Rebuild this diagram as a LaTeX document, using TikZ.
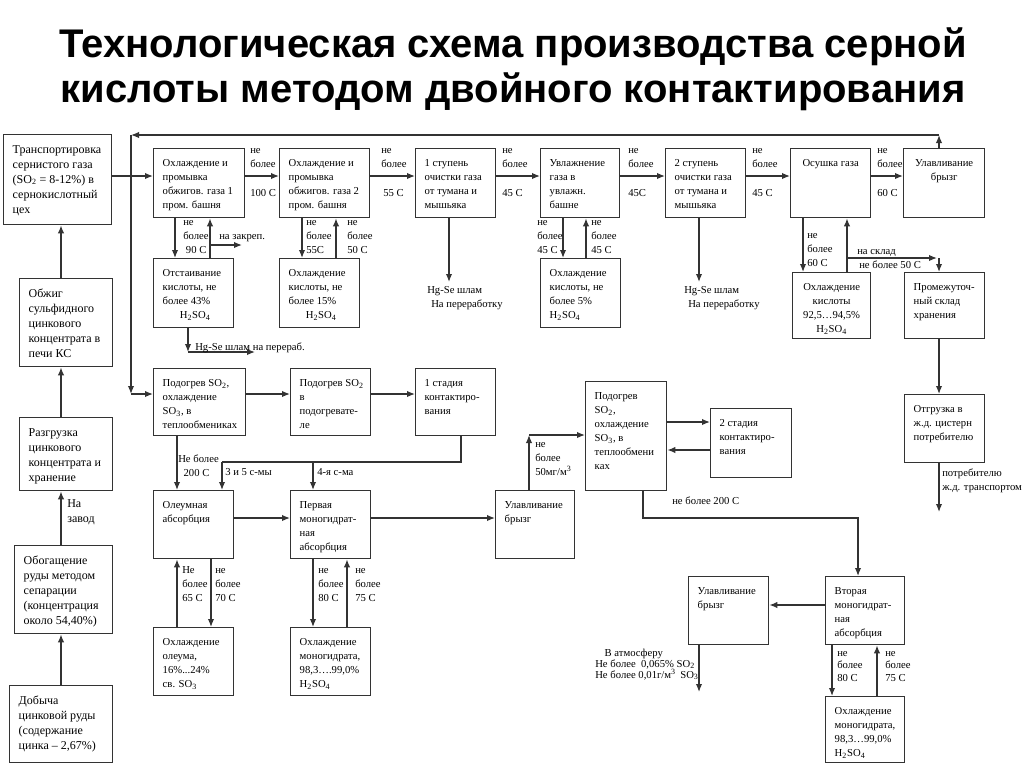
\documentclass[tikz,border=0pt]{standalone}
\usepackage{fontspec}
\setmainfont{Liberation Serif}
\newfontfamily\titlefont{Liberation Sans}
\usetikzlibrary{arrows.meta}
\newcommand{\stage}[7][]{%
  \node[stage,#1] (#2) at (#3,#4)
    {\parbox[t][\dimexpr #6pt*3/4-12pt\relax][t]{\dimexpr #5pt*3/4-8pt\relax}{\raggedright\leftskip=2.8pt\strut #7}};}

\begin{document}
\begin{tikzpicture}[x=0.75pt,y=-0.75pt]
  \tikzset{
    stage/.style={draw=black!80, line width=1pt, anchor=north west, inner xsep=4pt, inner ysep=6pt,
      font=\fontsize{8}{10.5}\selectfont},
    big/.style={font=\fontsize{9}{11.25}\selectfont},
    flow/.style={draw=black!80, line width=1pt, -{Latex[length=6pt,width=4.8pt]}},
    line/.style={draw=black!80, line width=1pt},
    note/.style={inner sep=0pt, align=left, font=\fontsize{8}{10.5}\selectfont},
    heading/.style={inner sep=0pt, anchor=base, font=\titlefont\bfseries\fontsize{30}{35}\selectfont}
  }
  \useasboundingbox (0,0) rectangle (1024,768);
  \fill[white] (0,0) rectangle (1024,768);

  \node[heading] (h1) at (513,57) {Технологическая схема производства серной};
  \node[heading] (h2) at (513,102) {кислоты методом двойного контактирования};

  \coordinate (x61) at (61,0);   \coordinate (x131) at (131,0); \coordinate (x175) at (175,0);
  \coordinate (x177) at (177,0); \coordinate (x188) at (188,0); \coordinate (x210) at (210,0);
  \coordinate (x211) at (211,0); \coordinate (x222) at (222,0); \coordinate (x242) at (242,0);
  \coordinate (x255) at (255,0); \coordinate (x302) at (302,0); \coordinate (x313) at (313,0);
  \coordinate (x336) at (336,0); \coordinate (x347) at (347,0); \coordinate (x449) at (449,0);
  \coordinate (x461) at (461,0); \coordinate (x529) at (529,0); \coordinate (x563) at (563,0);
  \coordinate (x586) at (586,0); \coordinate (x643) at (643,0); \coordinate (x699) at (699,0);
  \coordinate (x803) at (803,0); \coordinate (x832) at (832,0); \coordinate (x847) at (847,0);
  \coordinate (x858) at (858,0); \coordinate (x877) at (877,0); \coordinate (x937) at (937,0);
  \coordinate (x939) at (939,0);
  \coordinate (y135) at (0,135); \coordinate (y176) at (0,176); \coordinate (y245) at (0,245);
  \coordinate (y258) at (0,258); \coordinate (y282) at (0,282); \coordinate (y352) at (0,352);
  \coordinate (y394) at (0,394); \coordinate (y422) at (0,422); \coordinate (y435) at (0,435);
  \coordinate (y450) at (0,450); \coordinate (y462) at (0,462); \coordinate (y512) at (0,512);
  \coordinate (y518) at (0,518); \coordinate (y605) at (0,605); \coordinate (y692) at (0,692);

  \stage[big]{tr}{3}{134}{108}{90}{Транспортировка\\сернистого газа\\(SO\textsubscript{2} = 8-12\%) в\\сернокислотный\\цех}
  \stage[big]{ob}{19}{278}{93}{88}{Обжиг\\сульфидного\\цинкового\\концентрата в\\печи КС}
  \stage[big]{rz}{19}{417}{93}{73}{Разгрузка\\цинкового\\концентрата и\\хранение}
  \stage[big]{og}{14}{545}{98}{88}{Обогащение\\руды методом\\сепарации\\(концентрация\\около 54,40\%)}
  \stage[big]{db}{9}{685}{103}{77}{Добыча\\цинковой руды\\(содержание\\цинка – 2,67\%)}

  \stage{ox1}{153}{148}{91}{69}{Охлаждение и\\промывка\\обжигов. газа 1\\пром. башня}
  \stage{ox2}{279}{148}{90}{69}{Охлаждение и\\промывка\\обжигов. газа 2\\пром. башня}
  \stage{st1}{415}{148}{80}{69}{1 ступень\\очистки газа\\от тумана и\\мышьяка}
  \stage{uv}{540}{148}{79}{69}{Увлажнение\\газа в\\увлажн.\\башне}
  \stage{st2}{665}{148}{80}{69}{2 ступень\\очистки газа\\от тумана и\\мышьяка}
  \stage{os}{790}{148}{80}{69}{\centering Осушка газа}
  \stage{ub1}{903}{148}{81}{69}{\centering Улавливание\\брызг}

  \stage{ots}{153}{258}{80}{69}{Отстаивание\\кислоты, не\\более 43\%\\\hspace*{1.6em}H\textsubscript{2}SO\textsubscript{4}}
  \stage{ok1}{279}{258}{80}{69}{Охлаждение\\кислоты, не\\более 15\%\\\hspace*{1.6em}H\textsubscript{2}SO\textsubscript{4}}
  \stage{ok2}{540}{258}{80}{69}{Охлаждение\\кислоты, не\\более 5\%\\H\textsubscript{2}SO\textsubscript{4}}
  \stage{ok3}{792}{272}{78}{66}{\centering Охлаждение\\кислоты\\92,5…94,5\%\\H\textsubscript{2}SO\textsubscript{4}}
  \stage{pr}{904}{272}{80}{66}{Промежуточ-\\ный склад\\хранения}
  \stage{otg}{904}{394}{80}{68}{Отгрузка в\\ж.д. цистерн\\потребителю}

  \stage{pd1}{153}{368}{92}{67}{Подогрев SO\textsubscript{2},\\охлаждение\\SO\textsubscript{3}, в\\теплообмениках}
  \stage{pd2}{290}{368}{80}{67}{Подогрев SO\textsubscript{2}\\в\\подогревате-\\ле}
  \stage{kt1}{415}{368}{80}{67}{1 стадия\\контактиро-\\вания}
  \stage{pd3}{585}{381}{81}{109}{Подогрев\\SO\textsubscript{2},\\охлаждение\\SO\textsubscript{3}, в\\теплообмени\\ках}
  \stage{kt2}{710}{408}{81}{69}{2 стадия\\контактиро-\\вания}

  \stage{ol}{153}{490}{80}{68}{Олеумная\\абсорбция}
  \stage{pm}{290}{490}{80}{68}{Первая\\моногидрат-\\ная\\абсорбция}
  \stage{ub2}{495}{490}{79}{68}{Улавливание\\брызг}

  \stage{oo}{153}{627}{80}{68}{Охлаждение\\олеума,\\16\%...24\%\\св. SO\textsubscript{3}}
  \stage{om1}{290}{627}{80}{68}{Охлаждение\\моногидрата,\\98,3….99,0\%\\H\textsubscript{2}SO\textsubscript{4}}
  \stage{ub3}{688}{576}{80}{68}{Улавливание\\брызг}
  \stage{vm}{825}{576}{79}{68}{Вторая\\моногидрат-\\ная\\абсорбция}
  \stage{om2}{825}{696}{79}{66}{Охлаждение\\моногидрата,\\98,3…99,0\%\\H\textsubscript{2}SO\textsubscript{4}}

  \draw[flow] (db.north -| x61) -- (og.south -| x61);
  \draw[flow] (og.north -| x61) -- (rz.south -| x61);
  \draw[flow] (rz.north -| x61) -- (ob.south -| x61);
  \draw[flow] (ob.north -| x61) -- (tr.south -| x61);
  \node[note, big, anchor=north west] (n0) at (67,497) {\strut На\\завод};

  \draw[flow] (tr.east |- y176) -- (ox1.west |- y176);
  \draw[flow] (ox1.east |- y176) -- (ox2.west |- y176);
  \draw[flow] (ox2.east |- y176) -- (st1.west |- y176);
  \draw[flow] (st1.east |- y176) -- (uv.west |- y176);
  \draw[flow] (uv.east |- y176) -- (st2.west |- y176);
  \draw[flow] (st2.east |- y176) -- (os.west |- y176);
  \draw[flow] (os.east |- y176) -- (ub1.west |- y176);
  \node[note, anchor=south west] (n1a) at (250,172) {не\\более\strut};
  \node[note, anchor=north west] (n1b) at (250,186) {\strut 100 С};
  \node[note, anchor=south west] (n2a) at (381,172) {не\\более\strut};
  \node[note, anchor=north west] (n2b) at (383,186) {\strut 55 С};
  \node[note, anchor=south west] (n3a) at (502,172) {не\\более\strut};
  \node[note, anchor=north west] (n3b) at (502,186) {\strut 45 С};
  \node[note, anchor=south west] (n4a) at (628,172) {не\\более\strut};
  \node[note, anchor=north west] (n4b) at (628,186) {\strut 45С};
  \node[note, anchor=south west] (n5a) at (752,172) {не\\более\strut};
  \node[note, anchor=north west] (n5b) at (752,186) {\strut 45 С};
  \node[note, anchor=south west] (n6a) at (877,172) {не\\более\strut};
  \node[note, anchor=north west] (n6b) at (877,186) {\strut 60 С};

  \draw[flow] (ox1.south -| x175) -- (ots.north -| x175);
  \draw[flow] (ots.north -| x210) -- (ox1.south -| x210);
  \draw[flow] (y245 -| x210) -- (y245 -| x242);
  \node[note, anchor=north west] (n7) at (183,215) {\strut не\\более\\\hspace*{2pt}90 С};
  \node[note, anchor=base west] (n8) at (219,239) {на закреп.};
  \draw[flow] (ots.south -| x188) -- (y352 -| x188);
  \draw[flow] (y352 -| x188) -- (y352 -| x255);
  \node[note, anchor=base west] (n9) at (195,350) {Hg-Se шлам на перераб.};

  \draw[flow] (ox2.south -| x302) -- (ok1.north -| x302);
  \draw[flow] (ok1.north -| x336) -- (ox2.south -| x336);
  \node[note, anchor=north west] (n10) at (306,215) {\strut не\\более\\55С};
  \node[note, anchor=north west] (n11) at (347,215) {\strut не\\более\\50 С};

  \draw[flow] (st1.south -| x449) -- (y282 -| x449);
  \node[note, anchor=north west] (n12) at (427,283) {\strut Hg-Se шлам\\\hspace*{3pt}На переработку};

  \draw[flow] (uv.south -| x563) -- (ok2.north -| x563);
  \draw[flow] (ok2.north -| x586) -- (uv.south -| x586);
  \node[note, anchor=north west] (n13) at (537,215) {\strut не\\более\\45 С};
  \node[note, anchor=north west] (n14) at (591,215) {\strut не\\более\\45 С};

  \draw[flow] (st2.south -| x699) -- (y282 -| x699);
  \node[note, anchor=north west] (n15) at (684,283) {\strut Hg-Se шлам\\\hspace*{3pt}На переработку};

  \draw[flow] (os.south -| x803) -- (ok3.north -| x803);
  \draw[flow] (ok3.north -| x847) -- (os.south -| x847);
  \node[note, anchor=north west] (n16) at (807,228) {\strut не\\более\\60 С};
  \draw[flow] (y258 -| x847) -- (y258 -| x937);
  \draw[flow] (y258 -| x939) -- (pr.north -| x939);
  \node[note, anchor=base west] (n17) at (857,254) {на склад};
  \node[note, anchor=base west] (n18) at (859,268) {не более 50 С};

  \draw[flow] (pr.south -| x939) -- (otg.north -| x939);
  \draw[flow] (otg.south -| x939) -- (y512 -| x939);
  \node[note, anchor=north west] (n19) at (942,466) {\strut потребителю\\ж.д. транспортом};

  \draw[flow] (ub1.north -| x939) -- (y135 -| x939);
  \draw[flow] (y135 -| x939) -- (y135 -| x131);
  \draw[flow] (y135 -| x131) -- (y394 -| x131);
  \draw[flow] (y394 -| x131) -- (pd1.west |- y394);

  \draw[flow] (pd1.east |- y394) -- (pd2.west |- y394);
  \draw[flow] (pd2.east |- y394) -- (kt1.west |- y394);
  \draw[flow] (pd1.south -| x177) -- (ol.north -| x177);
  \node[note, anchor=north west] (n20) at (178,452) {\strut Не более\\\hspace*{4pt}200 С};
  \draw[line] (kt1.south -| x461) |- (y462 -| x222);
  \draw[flow] (y462 -| x222) -- (ol.north -| x222);
  \draw[flow] (y462 -| x313) -- (pm.north -| x313);
  \node[note, anchor=base west] (n21) at (225,475) {3 и 5 с-мы};
  \node[note, anchor=base west] (n22) at (317,475) {4-я с-ма};

  \draw[flow] (ol.east |- y518) -- (pm.west |- y518);
  \draw[flow] (pm.east |- y518) -- (ub2.west |- y518);
  \draw[flow] (ub2.north -| x529) -- (y435 -| x529);
  \draw[flow] (y435 -| x529) -- (pd3.west |- y435);
  \node[note, anchor=north west] (n23) at (535,437) {\strut не\\более\\50мг/м\textsuperscript{3}};

  \draw[flow] (pd3.east |- y422) -- (kt2.west |- y422);
  \draw[flow] (kt2.west |- y450) -- (pd3.east |- y450);
  \draw[flow] (pd3.south -| x643) |- (y518 -| x858) -- (vm.north -| x858);
  \node[note, anchor=base west] (n24) at (672,504) {не более 200 С};

  \draw[flow] (oo.north -| x177) -- (ol.south -| x177);
  \draw[flow] (ol.south -| x211) -- (oo.north -| x211);
  \node[note, anchor=north west] (n25) at (182,563) {\strut Не\\более\\65 С};
  \node[note, anchor=north west] (n26) at (215,563) {\strut не\\более\\70 С};
  \draw[flow] (pm.south -| x313) -- (om1.north -| x313);
  \draw[flow] (om1.north -| x347) -- (pm.south -| x347);
  \node[note, anchor=north west] (n27) at (318,563) {\strut не\\более\\80 С};
  \node[note, anchor=north west] (n28) at (355,563) {\strut не\\более\\75 С};

  \draw[flow] (vm.west |- y605) -- (ub3.east |- y605);
  \draw[flow] (ub3.south -| x699) -- (y692 -| x699);
  \node[note, anchor=north west, font=\fontsize{8}{8.3}\selectfont] (n29) at (595,648)
    {\strut\hspace*{7pt}В атмосферу\\Не более \ 0,065\% SO\textsubscript{2}\\Не более 0,01г/м\textsuperscript{3} \,SO\textsubscript{3}};
  \draw[flow] (vm.south -| x832) -- (om2.north -| x832);
  \draw[flow] (om2.north -| x877) -- (vm.south -| x877);
  \node[note, anchor=north west, font=\fontsize{8}{9.5}\selectfont] (n30) at (837,647) {\strut не\\более\\80 С};
  \node[note, anchor=north west, font=\fontsize{8}{9.5}\selectfont] (n31) at (885,647) {\strut не\\более\\75 С};
\end{tikzpicture}
\end{document}
